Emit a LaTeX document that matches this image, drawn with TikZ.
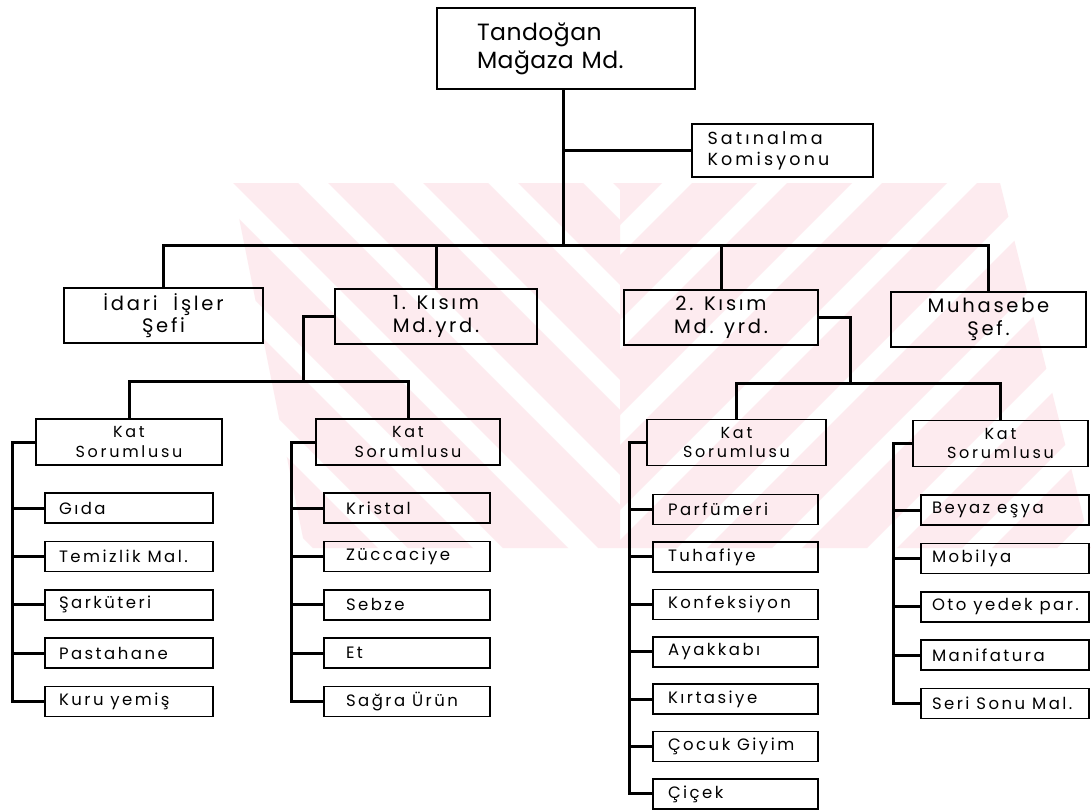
\documentclass[tikz,border=0pt]{standalone}
\usepackage{fontspec}
\newfontfamily\topfont[LetterSpace=2]{Poppins}
\newfontfamily\satfont[LetterSpace=18]{Poppins}
\newfontfamily\midfont[LetterSpace=14]{Poppins}
\newfontfamily\katfont[LetterSpace=17]{Poppins}
\newfontfamily\leaffont[LetterSpace=15]{Poppins}
\definecolor{wmark}{RGB}{253,235,239}

\tikzset{
  box/.style={draw, line width=1.6pt, inner sep=0pt, anchor=center},
  topbox/.style={box, minimum width=258pt, minimum height=81pt, text width=178pt, align=left,
                 font=\topfont\fontsize{23.5}{28}\selectfont},
  satbox/.style={box, minimum width=181pt, minimum height=53pt, text width=150pt, align=left,
                 font=\satfont\fontsize{17.5}{21}\selectfont},
  midbox/.style={box, minimum height=55pt, align=center,
                 font=\midfont\fontsize{19.5}{22.5}\selectfont},
  katbox/.style={box, minimum height=46pt, align=center,
                 font=\katfont\fontsize{16}{19.5}\selectfont},
  leaf/.style={box, minimum height=30pt, font=\leaffont\fontsize{16.5}{18}\selectfont},
  link/.style={line width=3pt, line join=miter},
}
% text of a department box: box width, left inset, label
\newcommand\deptlabel[3]{\makebox[#1][l]{\hspace*{#2}#3}}

\begin{document}
\begin{tikzpicture}[x=1pt, y=-1pt]
\useasboundingbox (0,0) rectangle (1091,811);
\fill[white] (0,0) rectangle (1091,811);

% faint striped emblem behind the chart
\begin{scope}
  \clip (232,183) -- (620,183) -- (620,548) -- (305,548) -- cycle;
  \foreach \c in {-425,-330,...,460}
    \fill[wmark] ({\c+183},183) -- ({\c+248},183) -- ({\c+613},548) -- ({\c+548},548) -- cycle;
\end{scope}
\begin{scope}
  \clip (620,183) -- (1000,183) -- (1091,548) -- (620,548) -- cycle;
  \foreach \d in {780,875,...,1700}
    \fill[wmark] ({\d-183},183) -- ({\d-118},183) -- ({\d-483},548) -- ({\d-548},548) -- cycle;
\end{scope}

% management levels
\node[topbox] (top) at (566,48.5) {Tandoğan\\Mağaza Md.};
\node[satbox] (sat) at (782.5,150.5) {Satınalma\\Komisyonu};

\node[midbox, minimum width=199pt] (idari) at (163.5,315.5) {İdari\ \ İşler\\Şefi};
\node[midbox, minimum width=202pt] (md1) at (436,316.5) {1. Kısım\\Md.\,yrd.};
\node[midbox, minimum width=194pt] (md2) at (721,317.5) {2. Kısım\\Md. yrd.};
\node[midbox, minimum width=195pt] (muh) at (988.5,319.5) {Muhasebe\\Şef.};

\node[katbox, minimum width=186pt] (kat1) at (129,442) {Kat\\Sorumlusu};
\node[katbox, minimum width=184pt] (kat2) at (408,442) {Kat\\Sorumlusu};
\node[katbox, minimum width=179pt] (kat3) at (736.5,442.5) {Kat\\Sorumlusu};
\node[katbox, minimum width=175pt] (kat4) at (1000.5,443.5) {Kat\\Sorumlusu};

% departments
\foreach \t [count=\i] in {Gıda, Temizlik Mal., Şarküteri, Pastahane, Kuru yemiş}
  \node[leaf] (a\i) at (129,{508+48.4*(\i-1)}) {\deptlabel{168pt}{14pt}{\t}};
\foreach \t [count=\i] in {Kristal, Züccaciye, Sebze, Et, Sağra Ürün}
  \node[leaf] (b\i) at (407,{508+48.4*(\i-1)}) {\deptlabel{166pt}{22pt}{\t}};
\foreach \t [count=\i] in {Parfümeri, Tuhafiye, Konfeksiyon, Ayakkabı, Kırtasiye, Çocuk Giyim, Çiçek}
  \node[leaf] (c\i) at (735.5,{509.5+47.4*(\i-1)}) {\deptlabel{165pt}{15pt}{\t}};
\foreach \t [count=\i] in {Beyaz eşya, Mobilya, Oto yedek par., Manifatura, Seri Sonu Mal.}
  \node[leaf] (d\i) at (1005,{510+48.4*(\i-1)}) {\deptlabel{168pt}{11pt}{\t}};

% junction points of the connector lines
\coordinate (bar) at (563,245);
\coordinate (j1) at (303,381);
\coordinate (j2) at (850,383);
\coordinate (ra) at (12,0);
\coordinate (rb) at (291,0);
\coordinate (rc) at (629,0);
\coordinate (rd) at (893,0);

% connectors
\draw[link] (top.south -| bar) -- (bar);
\draw[link] (sat.west -| bar) -- (sat.west);
\draw[link] (idari.north) |- (bar) -| (muh.north);
\draw[link] (md1.north) -- (md1.north |- bar);
\draw[link] (md2.north) -- (md2.north |- bar);

\draw[link] (md1.west) -| (j1);
\draw[link] (kat1.north) |- (j1) -| (kat2.north);
\draw[link] (md2.east) -| (j2);
\draw[link] (kat3.north) |- (j2) -| (kat4.north);

\draw[link] (kat1.west) -| (a5.west -| ra) -- (a5.west);
\foreach \i in {1,...,4} \draw[link] (a\i.west -| ra) -- (a\i.west);
\draw[link] (kat2.west) -| (b5.west -| rb) -- (b5.west);
\foreach \i in {1,...,4} \draw[link] (b\i.west -| rb) -- (b\i.west);
\draw[link] (kat3.west) -| (c7.west -| rc) -- (c7.west);
\foreach \i in {1,...,6} \draw[link] (c\i.west -| rc) -- (c\i.west);
\draw[link] (kat4.west) -| (d5.west -| rd) -- (d5.west);
\foreach \i in {1,...,4} \draw[link] (d\i.west -| rd) -- (d\i.west);
\end{tikzpicture}
\end{document}
